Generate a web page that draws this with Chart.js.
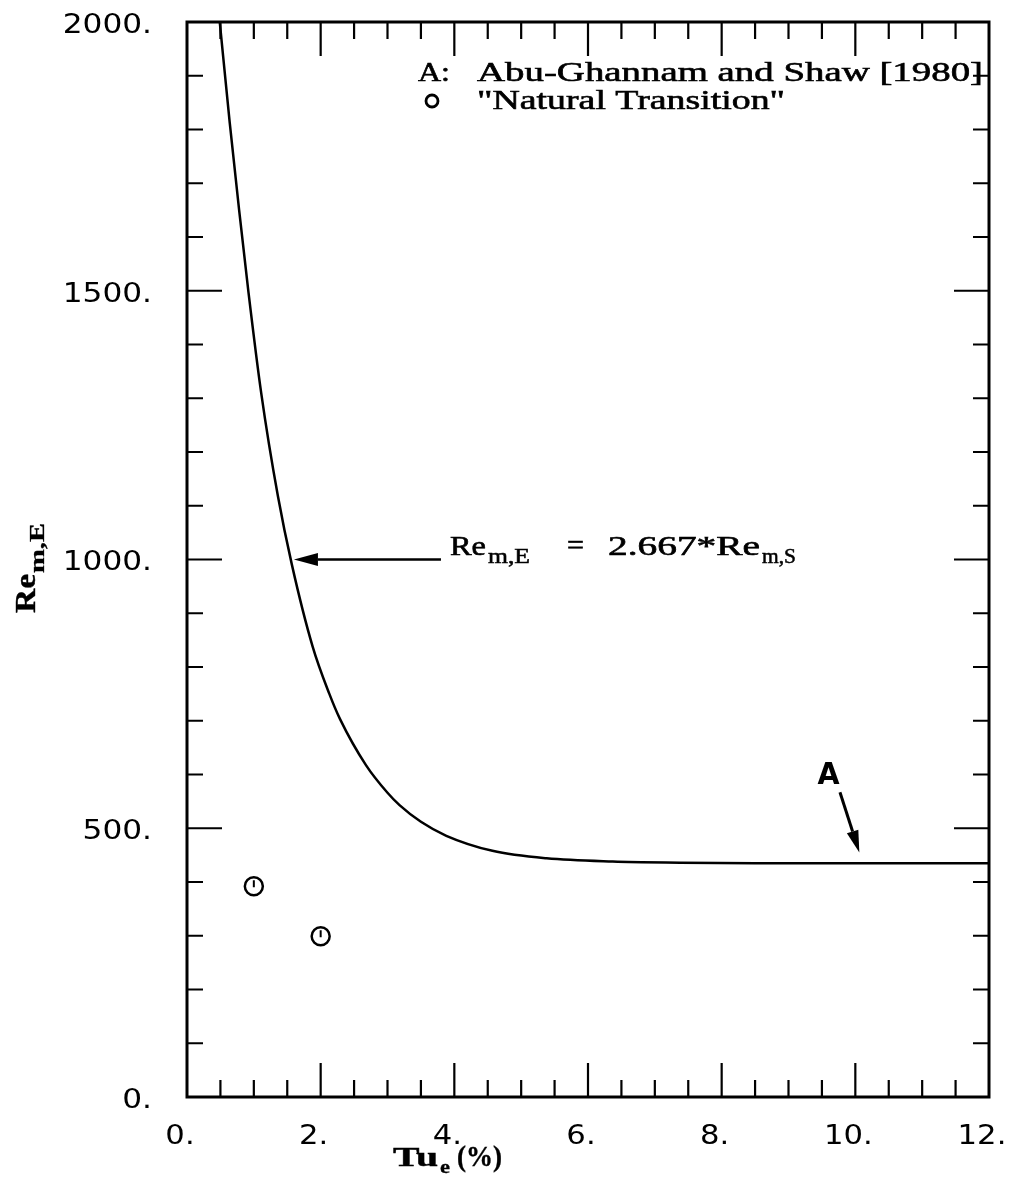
<!DOCTYPE html>
<html>
<head>
<meta charset="utf-8">
<script src="https://cdn.jsdelivr.net/npm/chart.js@4.4.1/dist/chart.umd.min.js"></script>
<style>
  html, body { margin: 0; padding: 0; background: #fff; }
  #wrap { width: 1010px; height: 1190px; position: relative; }
</style>
</head>
<body>
<div id="wrap"><canvas id="myChart"></canvas></div>
<script>
// end of transition, Abu-Ghannam and Shaw [1980]
var tuCurve = [0.49, 0.64, 0.78, 0.92, 1.11, 1.36, 1.57, 1.88, 2.13, 2.29, 2.68, 3.0, 3.18, 3.5, 3.88, 4.57, 5.38, 6.37, 7.38, 8.5, 10, 12];
var reCurve = [2000, 1812, 1650, 1497, 1310, 1118, 990, 838, 750, 703, 617, 566, 543, 512, 486, 458, 444, 438, 436, 435, 435, 435];

// "Natural Transition" points
var tuNatural = [1.0, 2.0];
var reNatural = [392, 299];

var xTicks = [0, 2, 4, 6, 8, 10, 12];
var xTickLabels = ["0.", "2.", "4.", "6.", "8.", "10.", "12."];
var yTicks = [0, 500, 1000, 1500, 2000];
var yTickLabels = ["0.", "500.", "1000.", "1500.", "2000."];

function toPoints(xs, ys) {
    var pts = [];
    for (var i = 0; i < xs.length; i++) pts.push({x: xs[i], y: ys[i]});
    return pts;
}

// text drawn with a horizontal stretch, optionally thickened a little
function drawText(ctx, str, x, y, font, sx, align, thick) {
    ctx.save();
    ctx.font = font;
    ctx.textAlign = align || "left";
    ctx.translate(x, y);
    ctx.scale(sx, 1);
    ctx.fillText(str, 0, 0);
    if (thick) {
        ctx.lineWidth = thick;
        ctx.strokeText(str, 0, 0);
    }
    ctx.restore();
}

function fitText(ctx, str, x, y, font, w, thick) {
    ctx.font = font;
    var sx = w / ctx.measureText(str).width;
    drawText(ctx, str, x, y, font, sx, "left", thick);
}

function arrow(ctx, x1, y1, x2, y2, head, half, lw) {
    var ang = Math.atan2(y2 - y1, x2 - x1);
    var bx = x2 - head * Math.cos(ang), by = y2 - head * Math.sin(ang);
    ctx.lineWidth = lw;
    ctx.beginPath();
    ctx.moveTo(x1, y1);
    ctx.lineTo(bx, by);
    ctx.stroke();
    ctx.beginPath();
    ctx.moveTo(x2, y2);
    ctx.lineTo(bx + half * Math.sin(ang), by - half * Math.cos(ang));
    ctx.lineTo(bx - half * Math.sin(ang), by + half * Math.cos(ang));
    ctx.closePath();
    ctx.fill();
}

var frame = {
    id: "frame",
    afterDatasetsDraw: function(chart) {
        // small mark inside each open circle
        var ctx = chart.ctx;
        var meta = chart.getDatasetMeta(1);
        ctx.save();
        ctx.strokeStyle = "#000";
        ctx.lineWidth = 2;
        ctx.beginPath();
        meta.data.forEach(function(p) {
            ctx.moveTo(p.x, p.y + 1);
            ctx.lineTo(p.x, p.y - 6);
        });
        ctx.stroke();
        ctx.restore();
    },
    afterDraw: function(chart) {
        var ctx = chart.ctx, a = chart.chartArea;
        var xs = chart.scales.x, ys = chart.scales.y;
        ctx.save();
        ctx.strokeStyle = "#000";
        ctx.fillStyle = "#000";

        // box and inward ticks on all four sides
        ctx.lineWidth = 3;
        ctx.strokeRect(a.left, a.top, a.right - a.left, a.bottom - a.top);
        ctx.lineWidth = 2.2;
        ctx.beginPath();
        for (var t = 0.5; t < 12; t += 0.5) {
            var px = xs.getPixelForValue(t);
            var len = (t % 2 === 0) ? 34 : 17;
            ctx.moveTo(px, a.bottom); ctx.lineTo(px, a.bottom - len);
            ctx.moveTo(px, a.top); ctx.lineTo(px, a.top + len);
        }
        for (var v = 100; v < 2000; v += 100) {
            var py = ys.getPixelForValue(v);
            var l2 = (v % 500 === 0) ? 35 : 16;
            ctx.moveTo(a.left, py); ctx.lineTo(a.left + l2, py);
            ctx.moveTo(a.right, py); ctx.lineTo(a.right - l2, py);
        }
        ctx.stroke();

        // tick labels
        var tickFont = '26px "DejaVu Sans"';
        ctx.textBaseline = "middle";
        for (var i = 0; i < xTicks.length; i++) {
            drawText(ctx, xTickLabels[i], xs.getPixelForValue(xTicks[i]) - 7, a.bottom + 40, tickFont, 1.18, "center");
        }
        for (var j = 0; j < yTicks.length; j++) {
            drawText(ctx, yTickLabels[j], 152, ys.getPixelForValue(yTicks[j]) + 4, tickFont, 1.2, "right");
        }
        ctx.textBaseline = "alphabetic";

        // axis titles
        fitText(ctx, "Tu", 393, a.bottom + 69, 'bold 28px "Liberation Serif"', 45, 0.4);
        fitText(ctx, "e", 440, a.bottom + 76, 'bold 19px "Liberation Serif"', 10, 0.3);
        fitText(ctx, "(%)", 457, a.bottom + 69, 'bold 30px "Liberation Serif"', 45, 0.4);

        ctx.save();
        ctx.translate(35, 613);
        ctx.rotate(-Math.PI / 2);
        fitText(ctx, "Re", 0, 0, 'bold 30px "Liberation Serif"', 39, 0.4);
        fitText(ctx, "m,E", 40, 9, 'bold 21px "Liberation Serif"', 50, 0.3);
        ctx.restore();

        // key
        var keyFont = '27px "Liberation Serif"';
        fitText(ctx, "A:", 418, 81, keyFont, 32, 0.6);
        fitText(ctx, "Abu-Ghannam and Shaw [1980]", 477, 81, keyFont, 506, 0.6);
        ctx.lineWidth = 2.8;
        ctx.beginPath();
        ctx.arc(432, 101, 6, 0, 2 * Math.PI);
        ctx.stroke();
        fitText(ctx, "\"Natural Transition\"", 477, 109, keyFont, 308, 0.6);

        // equation label with its arrow
        var eqFont = '27px "Liberation Serif"';
        var subFont = '20px "Liberation Serif"';
        var eqY = ys.getPixelForValue(1000) - 5;
        fitText(ctx, "Re", 450, eqY, eqFont, 36, 0.6);
        fitText(ctx, "m,E", 488, eqY + 8, subFont, 42, 0.5);
        fitText(ctx, "=", 567, eqY - 1, eqFont, 17, 0.6);
        fitText(ctx, "2.667*Re", 608, eqY, eqFont, 152, 0.6);
        fitText(ctx, "m,S", 762, eqY + 8, subFont, 34, 0.5);
        arrow(ctx, xs.getPixelForValue(3.80), ys.getPixelForValue(1000),
              xs.getPixelForValue(1.60), ys.getPixelForValue(1000), 24, 6.5, 2.5);

        // curve A marker
        drawText(ctx, "A", xs.getPixelForValue(9.6), ys.getPixelForValue(582), 'bold 30px "DejaVu Sans"', 0.95, "center");
        arrow(ctx, xs.getPixelForValue(9.77), ys.getPixelForValue(567),
              xs.getPixelForValue(10.06), ys.getPixelForValue(455), 22, 6, 3);

        ctx.restore();
    }
};

var ctx = document.getElementById("myChart");

var myChart = new Chart(ctx, {
    type: "scatter",
    data: {
        datasets: [{
            label: "A: Abu-Ghannam and Shaw [1980]",
            data: toPoints(tuCurve, reCurve),
            showLine: true,
            borderColor: "#000",
            borderWidth: 2.5,
            pointRadius: 0,
            cubicInterpolationMode: "monotone",
            fill: false
        }, {
            label: "\"Natural Transition\"",
            data: toPoints(tuNatural, reNatural),
            showLine: false,
            pointStyle: "circle",
            pointRadius: 9,
            pointBorderWidth: 2.5,
            borderColor: "#000",
            backgroundColor: "rgba(0,0,0,0)"
        }]
    },
    options: {
        responsive: true,
        maintainAspectRatio: false,
        animation: false,
        events: [],
        layout: { padding: { left: 187, top: 22, right: 21, bottom: 93 } },
        plugins: {
            legend: { display: false },
            tooltip: { enabled: false }
        },
        scales: {
            x: { type: "linear", min: 0, max: 12, display: false },
            y: { type: "linear", min: 0, max: 2000, display: false }
        }
    },
    plugins: [frame]
});
</script>
</body>
</html>
